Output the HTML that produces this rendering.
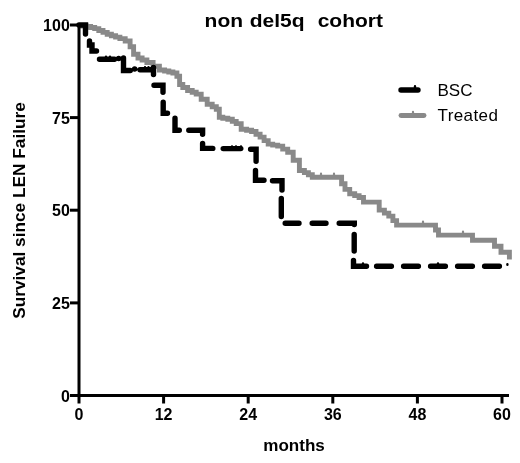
<!DOCTYPE html>
<html><head><meta charset="utf-8"><title>non del5q cohort</title>
<style>
html,body{margin:0;padding:0;background:#fff;}
body{width:520px;height:463px;overflow:hidden;}
svg{display:block;filter:blur(0.5px);font-family:"Liberation Sans",Arial,sans-serif;}
</style></head><body>
<svg width="520" height="463" viewBox="0 0 520 463">
<rect width="520" height="463" fill="#fff"/>
<text transform="translate(293.8,26.8) scale(1.105,1)" text-anchor="middle" font-size="19" font-weight="bold" fill="#000" word-spacing="0.7" xml:space="preserve">non del5q  cohort</text>
<path d="M79.0,25.6 L81.4,25.6 L81.4,26.0 L86.2,26.0 L86.2,26.4 L88.6,26.4 L90.6,26.4 L90.6,27.5 L94.7,27.5 L94.7,28.6 L96.8,28.6 L98.8,28.6 L98.8,30.5 L103.0,30.5 L103.0,32.4 L107.2,32.4 L107.2,34.2 L109.2,34.2 L111.4,34.2 L111.4,35.7 L115.6,35.7 L115.6,37.1 L119.9,37.1 L119.9,38.6 L122.0,38.6 L125.2,38.6 L125.2,41.0 L128.5,41.0 L130.1,41.0 L130.1,46.8 L131.8,46.8 L133.6,46.8 L133.6,54.2 L135.5,54.2 L138.0,54.2 L138.0,58.0 L140.5,58.0 L142.1,58.0 L142.1,60.0 L143.8,60.0 L146.9,60.0 L146.9,62.5 L150.0,62.5 L153.1,62.5 L153.1,66.2 L156.2,66.2 L159.4,66.2 L159.4,70.0 L162.5,70.0 L164.6,70.0 L164.6,71.0 L168.8,71.0 L168.8,72.0 L172.9,72.0 L172.9,73.0 L175.0,73.0 L176.9,73.0 L176.9,76.2 L178.8,76.2 L179.6,76.2 L179.6,84.5 L180.5,84.5 L182.8,84.5 L182.8,87.5 L185.0,87.5 L187.6,87.5 L187.6,90.5 L190.2,90.5 L192.2,90.5 L192.2,92.3 L196.2,92.3 L196.2,94.1 L198.2,94.1 L201.2,94.1 L201.2,99.2 L204.2,99.2 L207.2,99.2 L207.2,104.2 L210.2,104.2 L212.2,104.2 L212.2,106.7 L216.3,106.7 L216.3,109.2 L218.3,109.2 L219.3,109.2 L219.3,117.2 L220.3,117.2 L222.8,117.2 L222.8,118.2 L227.8,118.2 L227.8,119.2 L230.3,119.2 L232.3,119.2 L232.3,121.4 L236.2,121.4 L236.2,123.6 L238.2,123.6 L241.2,123.6 L241.2,129.2 L244.2,129.2 L246.6,129.2 L246.6,130.3 L251.6,130.3 L251.6,131.5 L254.0,131.5 L256.0,131.5 L256.0,134.3 L260.1,134.3 L260.1,137.1 L262.1,137.1 L264.1,137.1 L264.1,140.6 L268.2,140.6 L268.2,144.1 L270.2,144.1 L272.7,144.1 L272.7,145.1 L277.7,145.1 L277.7,146.1 L280.2,146.1 L282.7,146.1 L282.7,149.1 L287.7,149.1 L287.7,152.2 L290.2,152.2 L293.2,152.2 L293.2,160.2 L296.3,160.2 L299.4,160.2 L299.4,170.5 L302.5,170.5 L304.4,170.5 L304.4,172.6 L308.4,172.6 L308.4,174.7 L310.3,174.7 L312.3,174.7 L312.3,177.2 L314.3,177.2 L340.0,177.2 L341.6,177.2 L341.6,183.8 L343.1,183.8 L345.0,183.8 L345.0,189.4 L346.9,189.4 L349.7,189.4 L349.7,193.8 L352.5,193.8 L354.7,193.8 L354.7,195.6 L359.1,195.6 L359.1,197.5 L361.2,197.5 L363.5,197.5 L363.5,202.1 L365.8,202.1 L376.2,202.1 L379.2,202.1 L379.2,210.1 L382.2,210.1 L384.4,210.1 L384.4,213.1 L388.8,213.1 L388.8,216.1 L391.0,216.1 L392.9,216.1 L392.9,220.6 L396.6,220.6 L396.6,225.1 L398.5,225.1 L435.0,225.1 L435.5,225.1 L435.5,230.0 L436.0,230.0 L438.5,230.0 L438.5,235.1 L441.0,235.1 L472.0,235.1 L472.5,235.1 L472.5,240.2 L473.0,240.2 L494.0,240.2 L494.5,240.2 L494.5,246.2 L495.0,246.2 L501.0,246.2 L501.0,252.2 L509.4,252.2 L509.4,259.5" fill="none" stroke="#898989" stroke-width="4.9" stroke-linejoin="miter"/>
<g stroke="#000" stroke-width="3" fill="none">
<line x1="79" y1="23.5" x2="79" y2="397"/>
<line x1="77.5" y1="395.5" x2="509" y2="395.5"/>
<line x1="70" y1="25" x2="79" y2="25"/><line x1="70" y1="117.6" x2="79" y2="117.6"/><line x1="70" y1="210.2" x2="79" y2="210.2"/><line x1="70" y1="302.9" x2="79" y2="302.9"/><line x1="70" y1="395.5" x2="79" y2="395.5"/><line x1="79" y1="395.5" x2="79" y2="403.5"/><line x1="163.6" y1="395.5" x2="163.6" y2="403.5"/><line x1="248.2" y1="395.5" x2="248.2" y2="403.5"/><line x1="332.8" y1="395.5" x2="332.8" y2="403.5"/><line x1="417.4" y1="395.5" x2="417.4" y2="403.5"/><line x1="502" y1="395.5" x2="502" y2="403.5"/>
</g>
<path d="M79,25 H85.5 V34 M89.5,41 V45 H92 V51 H96.5 M99.5,59.2 H114.5 M118.6,58.5 h0.1 M123.5,58 V70.5 H130.3 M134.6,69 h0.1 M140,69.7 H153.5 M153.5,67.5 V74.5 M154,85.3 H163 V92.3 M163.2,102.2 V113.2 H167.5 M175,118.2 V130.3 H179.3 M188.8,130.3 H202.6 V134.2 M202.6,143.5 V148.4 H212.8 M223.2,148.6 H240.8 M250.6,149.2 H256.1 V161.2 M255.5,170.5 V180.3 H264 M272.5,180.8 H282 V190 M281.3,198.5 V216.5 M285.2,223.3 H299 M312.2,223.3 H326 M339.2,223.3 H354.3 V224.5 M354.2,234.5 V251 M353.5,260.5 V266.3 H366.5 M376.6,266.3 H391.4 M403.6,266.3 H418.4 M430.6,266.3 H445.4 M457.6,266.3 H472.4 M484.6,266.3 H499.4" fill="none" stroke="#000" stroke-width="5.4" stroke-linecap="round" stroke-linejoin="miter"/>
<g stroke="#000" stroke-width="2.4" stroke-linecap="round"><path d="M241,146.5 v2 M363,263.5 v2 M438,263.5 v2 M507.4,264.2 v0.6 M415,86.3 v2 M106,56.8 v1.5 M110,56.8 v1.5 M145,67.2 v1.5 M148.5,67.2 v1.5 M232,146.5 v1.5 M236,146.5 v1.5"/></g>
<g stroke="#898989" stroke-width="2.2" stroke-linecap="round"><path d="M423,221.5 v2 M463,231.5 v2 M413,111.8 v2 M321,173.7 v1.5 M334,173.7 v1.5"/></g>
<g font-size="16" font-weight="bold" fill="#000"><text x="69.8" y="31.1" text-anchor="end">100</text><text x="69.8" y="123.7" text-anchor="end">75</text><text x="69.8" y="216.3" text-anchor="end">50</text><text x="69.8" y="309.0" text-anchor="end">25</text><text x="69.8" y="401.6" text-anchor="end">0</text><text x="79" y="419.8" text-anchor="middle">0</text><text x="163.6" y="419.8" text-anchor="middle">12</text><text x="248.2" y="419.8" text-anchor="middle">24</text><text x="332.8" y="419.8" text-anchor="middle">36</text><text x="417.4" y="419.8" text-anchor="middle">48</text><text x="502" y="419.8" text-anchor="middle">60</text></g>
<text transform="translate(294,450.6) scale(1.04,1)" text-anchor="middle" font-size="16.4" font-weight="bold">months</text>
<text transform="translate(25.3,210.5) rotate(-90)" text-anchor="middle" font-size="17.25" font-weight="bold">Survival since LEN Failure</text>
<line x1="401" y1="90" x2="418" y2="90" stroke="#000" stroke-width="5.4" stroke-linecap="round"/>
<line x1="401" y1="115.5" x2="424" y2="115.5" stroke="#898989" stroke-width="4.9" stroke-linecap="round"/>
<text x="437.5" y="95.8" font-size="17">BSC</text>
<text x="437.5" y="121.3" font-size="17" letter-spacing="0.4">Treated</text>
</svg>
</body></html>
